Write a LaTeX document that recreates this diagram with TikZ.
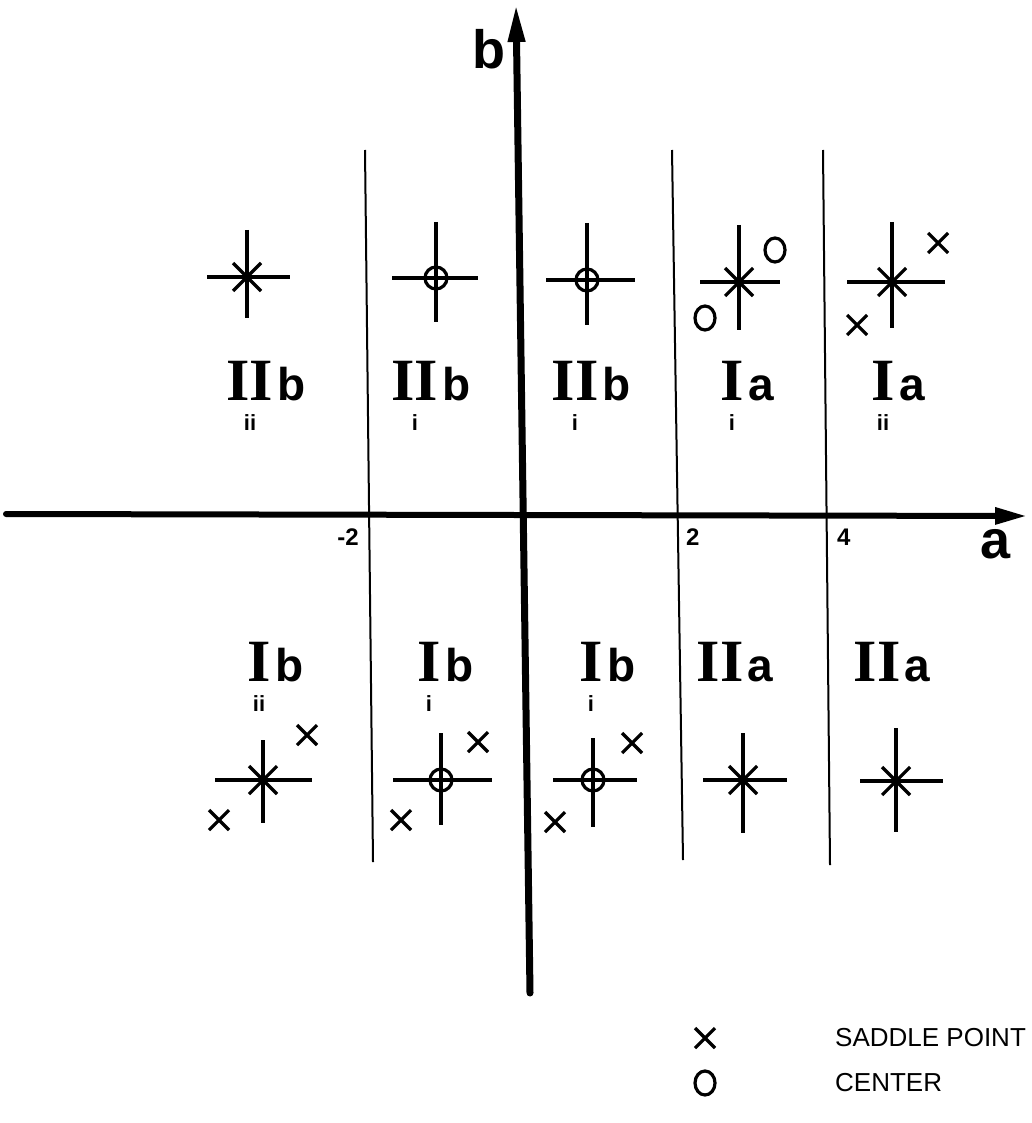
\documentclass[tikz,border=0pt]{standalone}
\usepackage{fontspec}
\setmainfont{Liberation Serif}
\setsansfont{Liberation Sans}
\usetikzlibrary{arrows.meta,positioning}
\tikzset{
  axisline/.style={line width=6pt,line cap=round},
  boundary/.style={line width=2pt},
  markline/.style={line width=3.2pt},
  numeral/.style={inner sep=0pt,font=\fontsize{60}{60}\selectfont\bfseries},
  letter/.style={inner sep=0pt,font=\fontsize{46}{46}\selectfont\sffamily\bfseries},
  subscr/.style={inner sep=0pt,font=\fontsize{22}{22}\selectfont\sffamily\bfseries},
  ticklabel/.style={inner sep=0pt,font=\fontsize{24}{24}\selectfont\sffamily\bfseries},
  axislabel/.style={inner sep=0pt,font=\fontsize{54}{54}\selectfont\sffamily\bfseries},
  legendtext/.style={inner sep=0pt,font=\fontsize{26}{26}\selectfont\sffamily}
}
\begin{document}
\begin{tikzpicture}[x=1pt,y=-1pt]
  \useasboundingbox (0,0) rectangle (1031,1123);
  % axes
  \coordinate (aL) at (6,514);
  \coordinate (aR) at (1027,516);
  \coordinate (bB) at (530,993);
  \coordinate (bT) at (516,4);
  \draw[axisline,-{Triangle[length=32pt,width=16pt]}] (aL) -- (aR);
  \draw[axisline,line width=7pt,-{Triangle[length=38pt,width=16pt]}] (bB) -- (bT);
  \node[axislabel,anchor=base] (alab) at (995,558) {a};
  \node[axislabel,anchor=base] (blab) at (489,69) {b};
  % region boundaries
  \foreach \x/\y/\xx/\yy in {365/150/373/862,672/150/683/860,823/150/830/865}
    \draw[boundary] (\x,\y) -- (\xx,\yy);
  \node[ticklabel,anchor=east] (tm2) at (359,537) {-2};
  \node[ticklabel,anchor=west] (t2) at (686,537) {2};
  \node[ticklabel,anchor=west] (t4) at (837,537) {4};
  % singular points
  \foreach \c/\x/\y in {u1/247/277,u2/436/278,u3/587/280,u4/739/282,u5/892/282,
                        l1/263/780,l2/441/780,l3/593/780,l4/743/780,l5/896/781}
    \coordinate (\c) at (\x,\y);
  \foreach \c/\l/\r/\u/\d in {u1/40/43/47/41,u2/44/42/56/44,u3/41/48/57/45,u4/39/41/57/48,u5/45/53/60/46,
                              l1/48/49/40/43,l2/48/51/47/45,l3/40/44/42/47,l4/40/44/47/53,l5/36/47/53/51}
    \draw[markline] (\c) ++(-\l,0) -- ++({\l+\r},0) (\c) ++(0,-\u) -- ++(0,{\u+\d});
  \foreach \c in {u1,u4,u5,l1,l4,l5}
    \draw[markline] (\c) ++(-14,-14) -- ++(28,28) (\c) ++(-14,14) -- ++(28,-28);
  \foreach \c in {u2,u3,l2,l3}
    \draw[markline] (\c) circle (11);
  % saddle points and centres
  \foreach \s/\x/\y in {s1/938/243,s2/857/325,s3/307/735,s4/219/820,s5/478/742,
                        s6/401/820,s7/632/743,s8/555/822,s9/705/1038}
  {
    \coordinate (\s) at (\x,\y);
    \draw[markline] (\s) ++(-10,-10) -- ++(20,20) (\s) ++(-10,10) -- ++(20,-20);
  }
  \foreach \o/\x/\y in {o1/775/250,o2/705/318,o3/705/1083}
  {
    \coordinate (\o) at (\x,\y);
    \draw[markline] (\o) ellipse (10 and 12);
  }
  % region labels
  \foreach \n/\x/\y/\nm/\lt/\sb in {r1/250/400/II/b/ii,r2/415/400/II/b/i,r3/575/400/II/b/i,
                                   r4/732/400/I/a/i,r5/883/400/I/a/ii,
                                   r6/259/681/I/b/ii,r7/429/681/I/b/i,r8/591/681/I/b/i,
                                   r9/720/681/II/a/,r10/877/681/II/a/}
  {
    \node[numeral,anchor=base] (\n) at (\x,\y) {\nm};
    \node[letter,anchor=base west,xshift=4pt] (\n l) at (\n.base east) {\lt};
    \node[subscr,below=14pt of \n] (\n s) {\sb};
  }
  % legend
  \node[legendtext,anchor=west] (leg1) at (835,1038) {SADDLE POINT};
  \node[legendtext,anchor=west] (leg2) at (835,1083) {CENTER};
\end{tikzpicture}
\end{document}
